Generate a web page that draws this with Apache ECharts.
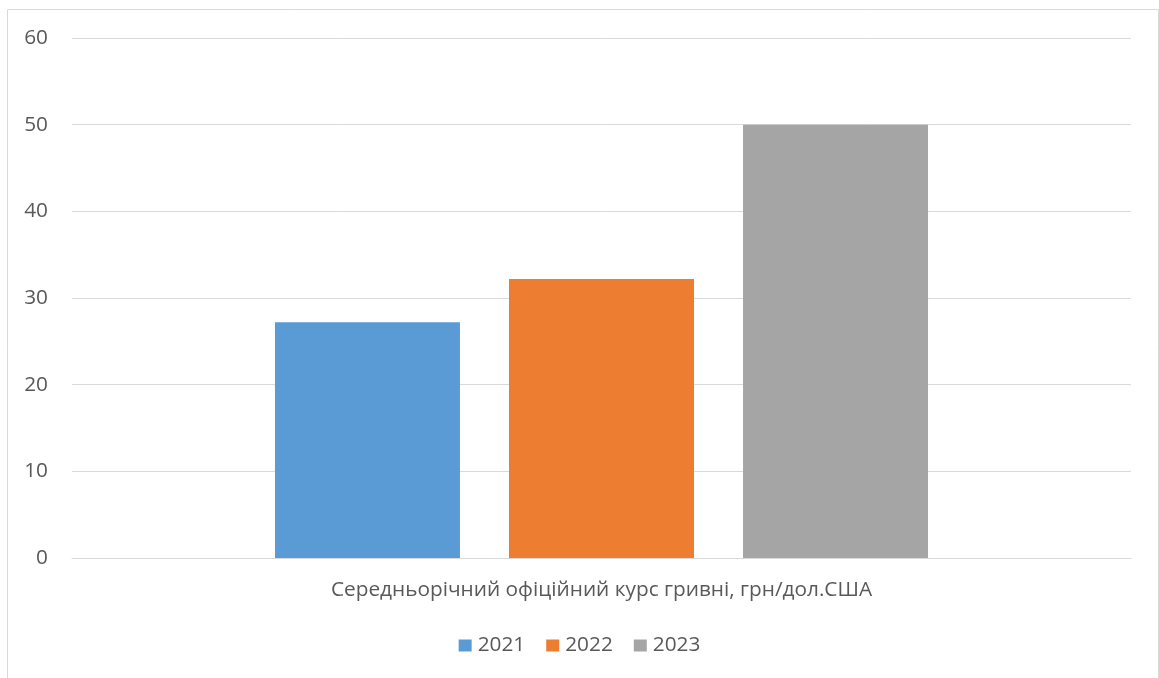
<!DOCTYPE html>
<html><head><meta charset="utf-8">
<script src="https://cdn.jsdelivr.net/npm/echarts@6/dist/echarts.min.js"></script>
<style>html,body{margin:0;padding:0;background:#fff}#c{width:1159px;height:678px}</style>
</head><body><div id="c"></div>
<script>
const categories = ['Середньорічний офіційний курс гривні, грн/дол.США'];
const seriesNames = ['2021', '2022', '2023'];
const values2021 = [27.2];
const values2022 = [32.2];
const values2023 = [50.0];
const yTicks = [0, 10, 20, 30, 40, 50, 60];
const colors = ['#5B9BD5', '#ED7D31', '#A5A5A5'];
const allValues = [values2021, values2022, values2023];

const chart = echarts.init(document.getElementById('c'), null, {renderer: 'canvas'});
const font = 'Open Sans, Noto Sans, sans-serif';
chart.setOption({
  animation: false,
  textStyle: {fontFamily: font},
  graphic: [{type: 'rect', shape: {x: 7.5, y: 9.5, width: 1151, height: 700}, style: {fill: 'none', stroke: '#D9D9D9', lineWidth: 1}, z: -1}],
  grid: {left: 72, right: 28, top: 38, bottom: 120},
  legend: {
    top: 630, left: 'center', itemWidth: 13, itemHeight: 12, itemGap: 21,
    icon: 'rect',
    textStyle: {color: '#595959', fontSize: 20.8, fontFamily: font, padding: [0, 0, 0, 1]},
    data: seriesNames
  },
  xAxis: {
    type: 'category', data: categories,
    axisLine: {show: true, lineStyle: {color: '#D9D9D9'}},
    axisTick: {show: false},
    axisLabel: {color: '#595959', fontSize: 20.8, margin: 22, fontFamily: font}
  },
  yAxis: {
    type: 'value', min: yTicks[0], max: yTicks[yTicks.length - 1], interval: 10,
    axisLine: {show: false}, axisTick: {show: false},
    splitLine: {lineStyle: {color: '#D9D9D9', width: 1}},
    axisLabel: {color: '#595959', fontSize: 20.8, margin: 24, fontFamily: font}
  },
  series: seriesNames.map((n, i) => ({
    name: n, type: 'bar', data: allValues[i], barWidth: 185, barGap: '26.5%',
    itemStyle: {color: colors[i]}
  }))
});
</script></body></html>
